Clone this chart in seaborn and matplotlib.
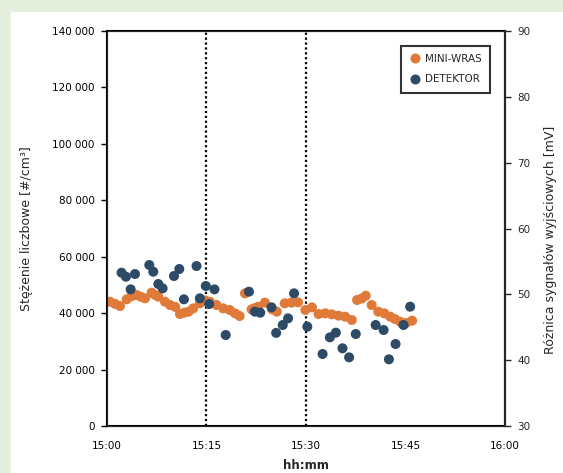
import pandas as pd
import matplotlib
matplotlib.use("Agg")
import matplotlib.pyplot as plt
from matplotlib.patches import Rectangle
from matplotlib.ticker import FuncFormatter
import seaborn as sns

# MINI-WRAS: minuty od 15:00 i stężenie [#/cm3]
t_wras = [0.45, 1.2, 1.96, 2.97, 3.7, 4.47, 5.1, 5.73, 6.73, 7.2, 7.74, 8.74, 9.5,
          10.3, 11.0, 11.7, 12.3, 13.0, 14.0, 14.8, 15.5, 16.5, 17.5, 18.5, 19.3,
          20.0, 20.8, 21.8, 22.3, 22.8, 23.8, 24.9, 25.6, 26.8, 27.8, 28.8, 29.9,
          30.9, 31.9, 32.9, 33.9, 34.9, 35.9, 36.9, 37.7, 38.4, 39.0, 39.9, 40.9,
          41.8, 42.7, 43.4, 44.2, 45.1, 46.0]
c_wras = [44050, 43300, 42530, 44900, 46000, 46430, 45800, 45250, 47250, 46500,
          45840, 44050, 42880, 42200, 39700, 40200, 40520, 41700, 43480, 44500,
          44050, 42880, 41700, 41110, 39930, 38980, 47020, 41340, 41800, 42290,
          43720, 41340, 40520, 43480, 43720, 43830, 41110, 42060, 39690, 39930,
          39570, 39100, 38750, 37570, 44650, 45200, 46180, 42880, 40520, 39930,
          38750, 37920, 36970, 36500, 37330]

# DETEKTOR: minuty od 15:00 i sygnał przeliczony na skalę lewej osi
t_det = [2.2, 2.86, 3.57, 4.22, 6.38, 6.98, 7.74, 8.39, 10.1, 10.9, 11.6, 13.5,
         14.0, 14.9, 15.4, 16.2, 17.9, 21.4, 22.3, 23.1, 24.8, 25.5, 26.5, 27.3,
         28.2, 30.2, 32.5, 33.6, 34.5, 35.5, 36.5, 37.5, 40.5, 41.7, 42.5, 43.5,
         44.7, 45.7]
c_det = [54330, 52910, 48430, 53870, 57060, 54690, 50320, 48790, 53160, 55640,
         44900, 56700, 45250, 49620, 43240, 48430, 32250, 47610, 40520, 40170,
         42060, 33000, 35790, 38160, 47020, 35200, 25520, 31420, 33080, 27530,
         24340, 32600, 35790, 34020, 23630, 29060, 35790, 42290]

x_ticks = [0, 15, 30, 45, 60]
x_labels = ["15:00", "15:15", "15:30", "15:45", "16:00"]
y_ticks = [0, 20000, 40000, 60000, 80000, 100000, 120000, 140000]
y2_ticks = [30, 40, 50, 60, 70, 80, 90]
v_lines = [15, 30]

df = pd.concat([
    pd.DataFrame({"czas": t_wras, "stezenie": c_wras, "seria": "MINI-WRAS"}),
    pd.DataFrame({"czas": t_det, "stezenie": c_det, "seria": "DETEKTOR"}),
], ignore_index=True)

sns.set_style("white")
plt.rcParams["font.family"] = ["DejaVu Sans"]

fig = plt.figure(figsize=(5.63, 4.73), dpi=100)
fig.patch.set_facecolor("#e3efda")
# białe tło wykresu na zielonym marginesie
fig.add_artist(Rectangle((11 / 563, 0), 1, (473 - 12) / 473,
                         transform=fig.transFigure, color="white", zorder=-10))
ax = fig.add_axes([0.190, 0.0994, 0.707, 0.835])

sns.scatterplot(data=df, x="czas", y="stezenie", hue="seria",
                palette={"MINI-WRAS": "#e07a38", "DETEKTOR": "#2d4a66"},
                s=52, edgecolor="none", ax=ax, zorder=3)

for v in v_lines:
    ax.axvline(v, color="black", linestyle=(0, (1, 1.2)), lw=1.6, zorder=2)

ax.set_xlim(0, 60)
ax.set_ylim(0, 140000)
ax.set_xticks(x_ticks)
ax.set_xticklabels(x_labels)
ax.set_yticks(y_ticks)
ax.yaxis.set_major_formatter(FuncFormatter(lambda v, p: f"{int(v):,}".replace(",", " ")))
ax.tick_params(axis="both", labelsize=7.5, length=4, width=1, colors="black")
ax.tick_params(axis="x", direction="inout", pad=9)
ax.tick_params(axis="y", direction="out", left=True, pad=5)
for sp in ax.spines.values():
    sp.set_linewidth(1.5)
    sp.set_color("black")

ax.set_xlabel("hh:mm", fontsize=8.5, fontweight="bold")
ax.xaxis.set_label_coords(0.5, -0.083)
ax.set_ylabel("Stężenie liczbowe [#/cm³]", fontsize=9)
ax.yaxis.set_label_coords(-0.185, 0.5)

ax2 = ax.twinx()
ax2.set_ylim(30, 90)
ax2.set_yticks(y2_ticks)
ax2.tick_params(axis="y", labelsize=7.5, length=4, width=1, direction="out", pad=5)
ax2.spines["right"].set_linewidth(1.5)
ax2.set_ylabel("Różnica sygnałów wyjściowych [mV]", fontsize=9, rotation=90)
ax2.yaxis.set_label_coords(1.097, 0.47)

handles, labels = ax.get_legend_handles_labels()
ax.legend(handles, labels, loc="upper right", bbox_to_anchor=(0.962, 0.963),
          borderaxespad=0, fontsize=7.5, frameon=True, fancybox=False,
          edgecolor="black", handletextpad=0.3, borderpad=0.8, labelspacing=1.0,
          handlelength=1.2, markerscale=1.0)
ax.get_legend().get_frame().set_linewidth(1.5)

fig.savefig("out.png", dpi=100)
